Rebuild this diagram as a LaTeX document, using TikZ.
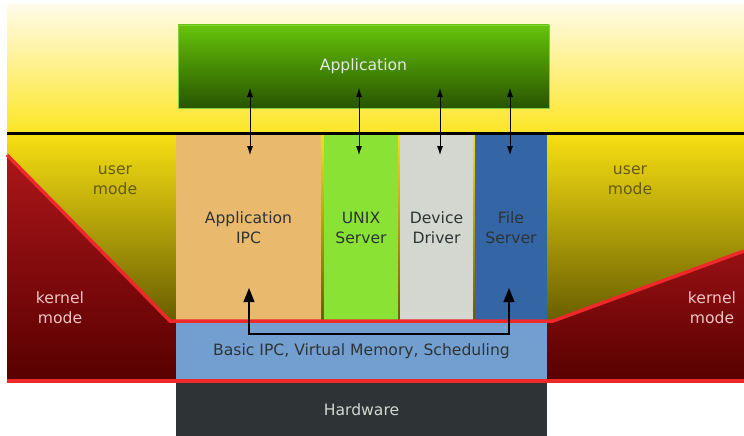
\documentclass[tikz,border=0pt]{standalone}
\usepackage{fontspec}
\setmainfont{DejaVu Sans}
\usepackage{xcolor}
\usepackage{tikz}
\usetikzlibrary{arrows.meta, positioning}

\definecolor{skyTop}{RGB}{255,251,232}
\definecolor{skyBot}{RGB}{252,230,36}
\definecolor{userTop}{RGB}{248,224,18}
\definecolor{userBot}{RGB}{104,94,0}
\definecolor{kernTop}{RGB}{172,22,26}
\definecolor{kernBot}{RGB}{88,0,0}
\definecolor{appTop}{RGB}{102,196,10}
\definecolor{appBot}{RGB}{40,84,0}
\definecolor{ipcCol}{RGB}{233,185,110}
\definecolor{unixCol}{RGB}{138,226,52}
\definecolor{devCol}{RGB}{211,215,207}
\definecolor{fileCol}{RGB}{52,101,164}
\definecolor{basicCol}{RGB}{114,159,207}
\definecolor{hwCol}{RGB}{46,52,54}
\definecolor{redLine}{RGB}{239,41,41}
\definecolor{userTxt}{RGB}{100,90,20}
\definecolor{kernTxt}{RGB}{238,196,196}

\begin{document}
\begin{tikzpicture}[
    x=1pt, y=-1pt,
    font=\fontsize{15.6}{20}\selectfont,
    column/.style={rectangle, inner sep=0pt, minimum height=185pt, align=center, text=hwCol},
    layer/.style={rectangle, inner sep=0pt, minimum width=371pt, align=center},
    modelabel/.style={align=center},
    call/.style={{Latex[length=9pt,width=6pt]}-{Latex[length=9pt,width=6pt]}, line width=0.8pt},
    kcall/.style={{Triangle[length=14pt,width=11pt]}-{Triangle[length=14pt,width=11pt]}, line width=1.1pt},
    border/.style={redLine, line width=3.5pt}
]
  \useasboundingbox (0,0) rectangle (744,436);

  % Backgrounds for the two modes
  \shade[top color=skyTop, bottom color=skyBot] (7,5) rectangle (744,133);
  \shade[top color=userTop, bottom color=userBot] (7,133) rectangle (744,321);
  \shade[top color=kernTop, bottom color=kernBot]
    (7,155) -- (170,321) -- (176,321) -- (176,381) -- (7,381) -- cycle;
  \shade[top color=kernTop!75!kernBot, bottom color=kernBot]
    (547,321) -- (553,321) -- (744,251) -- (744,381) -- (547,381) -- cycle;

  % Servers in user space
  \node[column, fill=ipcCol, minimum width=145pt] (ipc) at (248.5,227.5) {Application\\IPC};
  \node[column, fill=unixCol, minimum width=74pt] (unix) at (361,227.5) {UNIX\\Server};
  \node[column, fill=devCol, minimum width=73pt] (dev) at (436.5,227.5) {Device\\Driver};
  \node[column, fill=fileCol, minimum width=72pt] (file) at (511,227.5) {File\\Server};

  % Kernel and hardware
  \node[layer, fill=basicCol, minimum height=59pt, text=hwCol] (basic) at (361.5,351.5)
    {Basic IPC, Virtual Memory, Scheduling};
  \node[layer, fill=hwCol, minimum height=54pt, text=devCol] (hw) at (361.5,410)
    {Hardware};

  % Mode borders
  \draw[border] (7,155) -- (170,321) -- (553,321) -- (744,251);
  \draw[border] (7,381) -- (744,381);
  \draw[line width=3pt] (7,133) -- (744,133);

  % Application on top
  \node[rectangle, inner sep=0pt, minimum width=371pt, minimum height=83pt,
        top color=appTop, bottom color=appBot, draw=appTop!80!white, line width=0.6pt,
        text=devCol!60!white] (app) at (363.5,66.5) {Application};

  % Calls between application and servers
  \coordinate (a1) at (250,88);  \coordinate (s1) at (250,155);
  \coordinate (a2) at (359,88);  \coordinate (s2) at (359,155);
  \coordinate (a3) at (440,88);  \coordinate (s3) at (440,155);
  \coordinate (a4) at (510,88);  \coordinate (s4) at (510,155);
  \path[call]
    (a1) edge (s1)
    (a2) edge (s2)
    (a3) edge (s3)
    (a4) edge (s4);

  % IPC through the kernel
  \coordinate (k1) at (249,288);
  \coordinate (k2) at (509,288);
  \draw[kcall] (k1) -- ++(0,46) -| (k2);

  % Mode labels
  \node[modelabel, text=userTxt] (uL) at (115,180) {user\\mode};
  \node[modelabel, text=userTxt] (uR) at (630,180) {user\\mode};
  \node[modelabel, text=kernTxt] (kL) at (60,308) {kernel\\mode};
  \node[modelabel, text=kernTxt] (kR) at (712,308) {kernel\\mode};
\end{tikzpicture}
\end{document}
